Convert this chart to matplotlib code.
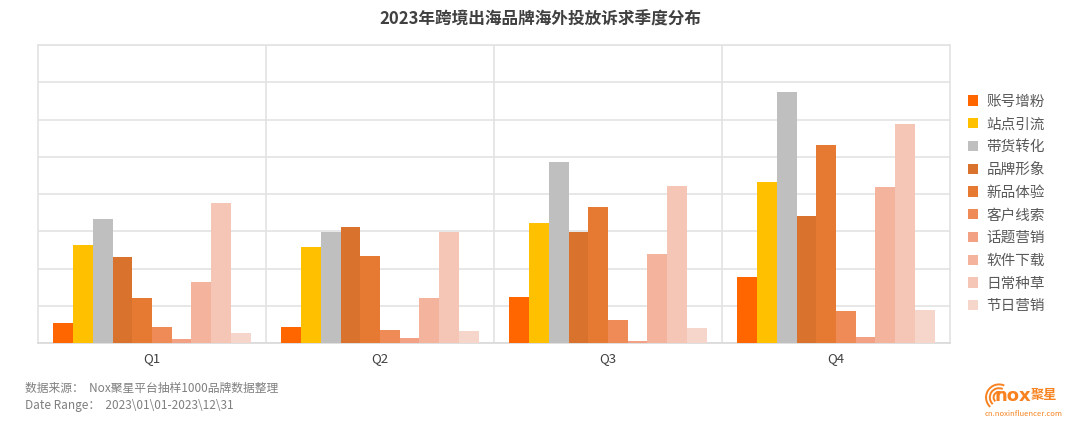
import numpy as np
import matplotlib
matplotlib.use('Agg')
import matplotlib.pyplot as plt
from matplotlib.patches import Arc

plt.rcParams['font.family'] = ['Noto Sans CJK SC', 'DejaVu Sans']

# data (units = one gridline step)
quarters = ['Q1', 'Q2', 'Q3', 'Q4']
series = ['账号增粉', '站点引流', '带货转化', '品牌形象', '新品体验',
          '客户线索', '话题营销', '软件下载', '日常种草', '节日营销']
zhanghao = [0.54, 0.45, 1.24, 1.77]
zhandian = [2.65, 2.58, 3.23, 4.32]
daihuo = [3.34, 2.98, 4.87, 6.74]
pinpai = [2.32, 3.11, 2.99, 3.41]
xinpin = [1.21, 2.33, 3.66, 5.32]
kehu = [0.43, 0.35, 0.62, 0.87]
huati = [0.11, 0.14, 0.05, 0.17]
ruanjian = [1.64, 1.22, 2.40, 4.19]
richang = [3.76, 2.98, 4.22, 5.87]
jieri = [0.29, 0.33, 0.42, 0.89]
values = [zhanghao, zhandian, daihuo, pinpai, xinpin,
          kehu, huati, ruanjian, richang, jieri]

colors = ['#FF6600', '#FFC000', '#BFBFBF', '#D9722D', '#E77A33',
          '#EE8B57', '#F2A184', '#F4B39C', '#F5C5B5', '#F6D5CB']

fig = plt.figure(figsize=(10.8, 4.25), dpi=100)
ax = fig.add_axes([0.0352, 0.1922, 0.8444, 0.7019])

n = len(series)
w = 0.865 / n
x = np.arange(len(quarters))
for i in range(n):
    ax.bar(x - 0.865 / 2 + w * (i + 0.5), values[i], width=w,
           color=colors[i], label=series[i], zorder=3, linewidth=0)

ax.set_xlim(-0.5, len(quarters) - 0.5)
ax.set_ylim(0, 8)
ax.set_yticks(np.arange(0, 9, 1))
ax.set_yticklabels([])
ax.tick_params(axis='y', length=0)
ax.yaxis.grid(True, color='#E3E3E3', linewidth=1.2, zorder=0)
for b in np.arange(0.5, len(quarters) - 0.5, 1):
    ax.axvline(b, color='#E3E3E3', linewidth=1.2, zorder=1)
ax.set_xticks(x)
ax.set_xticklabels(quarters, fontsize=9.5, color='#404040')
ax.tick_params(axis='x', length=0, pad=6)
for s in ['top', 'left', 'right']:
    ax.spines[s].set_color('#E3E3E3')
    ax.spines[s].set_linewidth(1.2)
ax.spines['bottom'].set_color('#D9D9D9')
ax.spines['bottom'].set_linewidth(1.2)

leg = ax.legend(loc='upper left', bbox_to_anchor=(1.005, 0.878), frameon=False,
                fontsize=10.5, handlelength=0.7, handleheight=0.7,
                handletextpad=0.6, labelspacing=0.6, labelcolor='#595959')

fig.text(0.5, 0.955, '2023年跨境出海品牌海外投放诉求季度分布', ha='center', va='center',
         fontsize=12, fontweight='bold', color='#404040')

fig.text(0.023, 0.085, '数据来源：  Nox聚星平台抽样1000品牌数据整理', ha='left', va='center',
         fontsize=8.5, color='#7F7F7F')
fig.text(0.023, 0.047, 'Date Range：  2023\\01\\01-2023\\12\\31', ha='left', va='center',
         fontsize=8.5, color='#7F7F7F')

# logo
fig.text(0.921, 0.068, 'nox', ha='left', va='center', fontsize=13,
         fontweight='bold', color='#F7821F', family=['DejaVu Sans'])
fig.text(0.954, 0.071, '聚星', ha='left', va='center', fontsize=9.5,
         fontweight='bold', color='#F7821F')
fig.text(0.948, 0.026, 'cn.noxinfluencer.com', ha='center', va='center',
         fontsize=5.5, color='#F7821F')
for r in [0.005, 0.0085, 0.012]:
    fig.add_artist(Arc((0.925, 0.065), r * 2, r * 2 * 1080 / 425, theta1=80, theta2=250,
                       transform=fig.transFigure, color='#F7821F', linewidth=1.4))

fig.savefig('out.png', dpi=100, facecolor='white')
